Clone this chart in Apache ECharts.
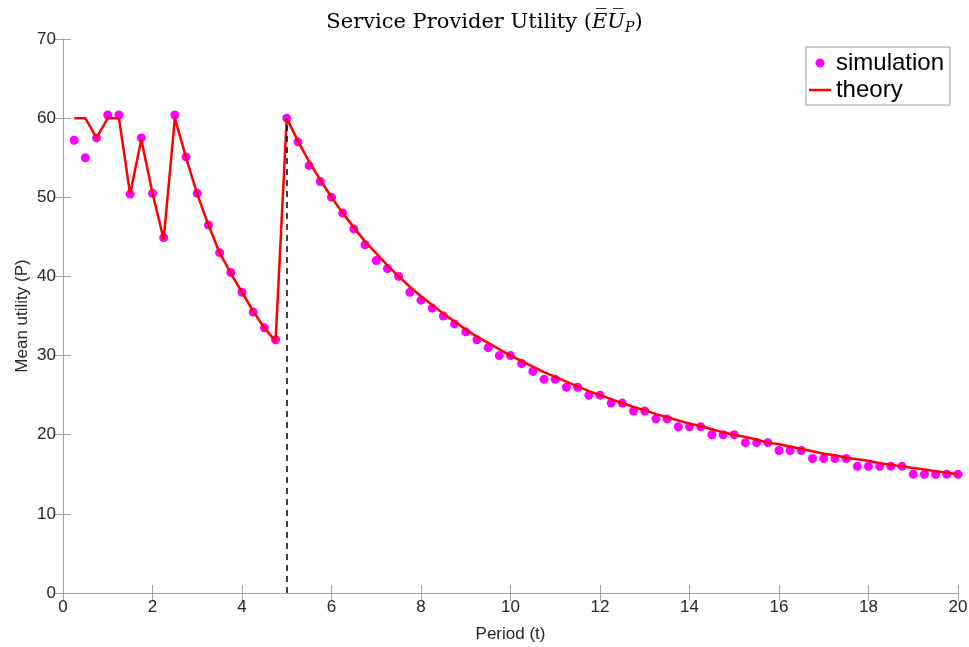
<!DOCTYPE html>
<html>
<head>
<meta charset="utf-8">
<script src="https://cdn.jsdelivr.net/npm/echarts@6/dist/echarts.min.js"></script>
<style>
  html, body { margin: 0; padding: 0; background: #fff; }
  #chart { width: 969px; height: 647px; }
</style>
</head>
<body>
<div id="chart"></div>
<script>
// period values (t)
const periods = [
  0.25, 0.5, 0.75, 1, 1.25, 1.5, 1.75, 2, 2.25, 2.5, 2.75, 3, 3.25, 3.5, 3.75, 4,
  4.25, 4.5, 4.75, 5, 5.25, 5.5, 5.75, 6, 6.25, 6.5, 6.75, 7, 7.25, 7.5, 7.75, 8,
  8.25, 8.5, 8.75, 9, 9.25, 9.5, 9.75, 10, 10.25, 10.5, 10.75, 11, 11.25, 11.5, 11.75, 12,
  12.25, 12.5, 12.75, 13, 13.25, 13.5, 13.75, 14, 14.25, 14.5, 14.75, 15, 15.25, 15.5, 15.75, 16,
  16.25, 16.5, 16.75, 17, 17.25, 17.5, 17.75, 18, 18.25, 18.5, 18.75, 19, 19.25, 19.5, 19.75, 20
];

// simulated mean utility
const simulation = [
  57.2, 55.0, 57.5, 60.4, 60.4, 50.4, 57.5, 50.5, 44.9, 60.4, 55.1, 50.5, 46.5, 43.0, 40.5, 38.0,
  35.5, 33.5, 32.0, 60.0, 57, 54, 52, 50, 48, 46, 44, 42, 41, 40, 38, 37,
  36, 35, 34, 33, 32, 31, 30, 30, 29, 28, 27, 27, 26, 26, 25, 25,
  24, 24, 23, 23, 22, 22, 21, 21, 21, 20, 20, 20, 19, 19, 19, 18,
  18, 18, 17, 17, 17, 17, 16, 16, 16, 16, 16, 15, 15, 15, 15, 15
];

// theoretical mean utility
const theory = [
  60, 60, 57.5, 60, 60, 50.4, 57.3, 50.5, 44.7, 60, 55, 50.4, 46.5, 43, 40.4, 38,
  35.6, 33.5, 31.8, 60, 57.1, 54.5, 52.2, 50, 48, 46.2, 44.4, 42.9, 41.4, 40, 38.7, 37.5,
  36.4, 35.3, 34.3, 33.3, 32.4, 31.6, 30.8, 30, 29.3, 28.6, 27.9, 27.3, 26.7, 26.1, 25.5, 25,
  24.5, 24, 23.5, 23.1, 22.6, 22.2, 21.8, 21.4, 21.1, 20.7, 20.3, 20, 19.7, 19.4, 19, 18.8,
  18.5, 18.2, 17.9, 17.6, 17.4, 17.1, 16.9, 16.7, 16.4, 16.2, 16, 15.8, 15.6, 15.4, 15.2, 15
];

const switchPeriod = 5;
const switchValue = 60;

const axisGray = '#a6a6a6';
const labelColor = '#262626';

const chart = echarts.init(document.getElementById('chart'));

const boxAxis = (extra) => Object.assign({
  type: 'value',
  axisLine: { show: true, lineStyle: { color: axisGray, width: 1 } },
  axisTick: { show: true, inside: true, length: 8, lineStyle: { color: axisGray } },
  splitLine: { show: false },
}, extra);

const serif = { fontFamily: 'DejaVu Serif', fontWeight: 'normal', color: '#000' };

chart.setOption({
  animation: false,
  title: {
    text: '{t|Service Provider Utility (}{ov|E\u0305U\u0305}{sub|P}{t|)}',
    left: 'center',
    top: 5,
    textStyle: {
      fontWeight: 'normal',
      rich: {
        t: Object.assign({ fontSize: 21 }, serif),
        ov: Object.assign({ fontSize: 21, fontStyle: 'italic' }, serif),
        sub: Object.assign({ fontSize: 14, fontStyle: 'italic', padding: [11, 0, 0, 0] }, serif),
      },
    },
  },
  grid: { left: 63, right: 11, top: 39, bottom: 54, outerBoundsMode: 'none', containLabel: false },
  legend: {
    right: 19,
    top: 47,
    orient: 'vertical',
    itemWidth: 22,
    itemHeight: 9,
    itemGap: 3,
    padding: [4, 6, 3, 3],
    borderColor: '#9a9a9a',
    borderWidth: 1,
    backgroundColor: '#fff',
    textStyle: { fontFamily: 'Liberation Sans', fontSize: 24, color: '#000' },
    data: [
      { name: 'simulation', icon: 'circle' },
      { name: 'theory', icon: 'path://M0,0 L22,0 L22,2.5 L0,2.5 Z' },
    ],
  },
  xAxis: [
    boxAxis({
      min: 0, max: 20, interval: 2,
      name: 'Period (t)',
      nameLocation: 'middle',
      nameGap: 33,
      nameTextStyle: { fontFamily: 'Liberation Sans', fontSize: 17, color: labelColor },
      axisLabel: { fontFamily: 'Liberation Sans', fontSize: 17, color: labelColor, margin: 6 },
    }),
    boxAxis({ min: 0, max: 20, interval: 2, position: 'top', axisLabel: { show: false } }),
  ],
  yAxis: [
    boxAxis({
      min: 0, max: 70, interval: 10,
      name: 'Mean utility (P)',
      nameLocation: 'middle',
      nameGap: 32,
      nameMoveOverlap: false,
      nameTextStyle: { fontFamily: 'Liberation Sans', fontSize: 17, color: labelColor },
      axisLabel: { fontFamily: 'Liberation Sans', fontSize: 17, color: labelColor, margin: 7 },
    }),
    boxAxis({ min: 0, max: 70, interval: 10, position: 'right', axisLabel: { show: false } }),
  ],
  series: [
    {
      name: 'theory',
      type: 'line',
      data: periods.map((t, i) => [t, theory[i]]),
      symbol: 'none',
      lineStyle: { color: '#ff0000', width: 2.5 },
      itemStyle: { color: '#ff0000' },
      z: 3,
      markLine: {
        silent: true,
        symbol: 'none',
        label: { show: false },
        lineStyle: { color: '#000', type: [6, 5], width: 1.5 },
        data: [[{ coord: [switchPeriod, 0] }, { coord: [switchPeriod, switchValue] }]],
      },
    },
    {
      name: 'simulation',
      type: 'scatter',
      data: periods.map((t, i) => [t, simulation[i]]),
      symbol: 'circle',
      symbolSize: 9,
      itemStyle: { color: '#ff00ff', opacity: 1 },
      z: 2,
    },
  ],
});
</script>
</body>
</html>
